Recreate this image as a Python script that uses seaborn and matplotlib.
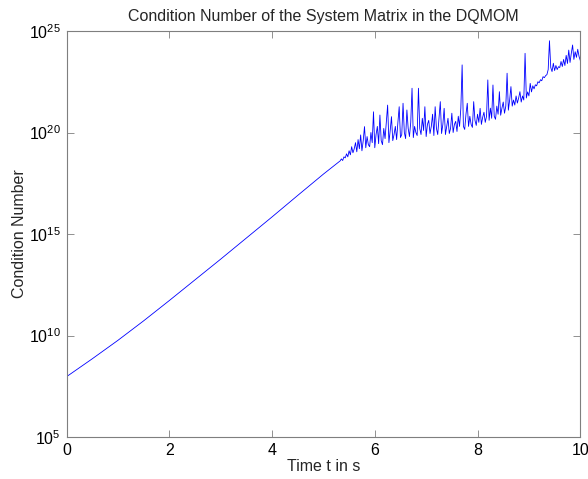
import numpy as np
import pandas as pd
import matplotlib
matplotlib.use("Agg")
import matplotlib.pyplot as plt
import seaborn as sns
from matplotlib.ticker import FixedLocator, FuncFormatter, NullLocator

# ---- data (log10 of condition number) ----
t_smooth = [0.0, 0.5, 1.0, 1.5, 2.0, 2.5, 3.0, 3.5, 4.0, 4.5, 5.0, 5.3]
log_smooth = [7.97, 8.85, 9.76, 10.72, 11.72, 12.74, 13.76, 14.8, 15.84, 16.9, 17.95, 18.55]

# noisy part, sampled every 0.025 s from 5.325 s to 10.0 s
t_noisy_start = 5.325
t_noisy_step = 0.025
log_a = [18.6, 18.7, 18.62, 18.8, 18.75, 18.95, 18.8, 19.1, 18.9, 19.3,
         19.0, 19.2, 19.5, 19.05, 19.65, 19.2, 19.88, 19.1, 19.6, 20.29]
log_b = [19.25, 19.8, 19.4, 19.3, 20.0, 19.5, 21.02, 19.25, 19.9, 20.3,
         19.45, 20.86, 19.6, 19.4, 20.2, 19.7, 20.5, 21.35, 19.5, 20.1]
log_c = [20.78, 19.6, 19.9, 20.3, 19.65, 20.5, 21.27, 19.75, 19.9, 21.44,
         20.0, 19.7, 21.11, 20.2, 19.8, 20.5, 22.18, 19.75, 20.3, 20.0]
log_d = [19.85, 22.18, 20.2, 19.9, 20.7, 20.1, 21.27, 19.8, 20.4, 20.6,
         19.95, 20.3, 20.9, 19.85, 21.27, 20.2, 19.9, 20.7, 21.52, 19.95]
log_e = [20.4, 21.19, 19.9, 20.3, 20.7, 19.95, 20.2, 20.95, 20.0, 20.4,
         20.55, 20.05, 20.8, 20.3, 21.2, 23.33, 20.3, 20.15, 20.9, 21.44]
log_f = [20.3, 20.8, 20.4, 20.25, 21.52, 20.6, 20.35, 20.9, 20.5, 21.19,
         20.4, 20.75, 21.0, 20.5, 20.8, 22.59, 20.6, 21.2, 20.7, 22.34]
log_g = [20.8, 20.65, 21.3, 20.9, 22.01, 20.85, 21.2, 21.5, 20.95, 21.3,
         22.92, 21.1, 21.6, 22.26, 21.3, 21.6, 21.35, 21.8, 21.45, 21.7]
log_h = [22.01, 21.5, 21.8, 21.6, 23.9, 21.7, 22.0, 21.8, 22.42, 22.0,
         22.3, 22.15, 22.35, 22.3, 22.5, 22.45, 22.6, 22.55, 22.75, 22.7]
log_i = [22.8, 22.85, 23.1, 24.52, 23.2, 23.0, 23.41, 23.05, 23.3, 23.1,
         23.24, 23.2, 23.5, 23.25, 23.6, 23.3, 23.8, 23.4, 24.06, 23.45]
log_j = [23.9, 24.31, 23.6, 23.98, 23.7, 24.1, 23.75, 23.55]

x_ticks = [0, 2, 4, 6, 8, 10]
y_tick_exps = [5, 10, 15, 20, 25]

title = "Condition Number of the System Matrix in the DQMOM"
xlabel = "Time t in s"
ylabel = "Condition Number"

# ---- assemble ----
log_noisy = log_a + log_b + log_c + log_d + log_e + log_f + log_g + log_h + log_i + log_j
t_noisy = [round(t_noisy_start + t_noisy_step * i, 4) for i in range(len(log_noisy))]
t_all = list(t_smooth) + t_noisy
cond = [10.0 ** v for v in (list(log_smooth) + log_noisy)]
df = pd.DataFrame({"t": t_all, "cond": cond})

sns.set_theme(style="white")
plt.rcParams["font.family"] = ["Liberation Sans", "DejaVu Sans"]
plt.rcParams["mathtext.fontset"] = "custom"
plt.rcParams["mathtext.rm"] = "Liberation Sans"

fig = plt.figure(figsize=(5.88, 4.79), dpi=100)
ax = fig.add_axes([66.5 / 588, 42 / 479, (580.3 - 66.5) / 588, (437 - 31) / 479])

sns.lineplot(data=df, x="t", y="cond", ax=ax, estimator=None, sort=False,
             color="#0000ff", linewidth=0.6)
ax.set_yscale("log")
ax.set_xlim(0, 10)
ax.set_ylim(1e5, 1e25)

ax.xaxis.set_major_locator(FixedLocator(x_ticks))
ax.yaxis.set_major_locator(FixedLocator([10.0 ** e for e in y_tick_exps]))
ax.yaxis.set_minor_locator(NullLocator())
ax.xaxis.set_minor_locator(NullLocator())
ax.yaxis.set_major_formatter(FuncFormatter(
    lambda v, p: r"$\mathregular{10^{%d}}$" % round(np.log10(v))))
ax.xaxis.set_major_formatter(FuncFormatter(lambda v, p: "%d" % v))

ax.tick_params(direction="in", length=5, width=0.6, color="#7f7f7f",
               labelsize=11.5, labelcolor="black", top=True, right=True,
               bottom=True, left=True, pad=4)
for s in ax.spines.values():
    s.set_color("#7f7f7f")
    s.set_linewidth(0.8)
    s.set_visible(True)

ax.set_title(title, fontsize=11.5, pad=7)
ax.set_xlabel(xlabel, fontsize=11.5, labelpad=1)
ax.set_ylabel(ylabel, fontsize=11.5)
ax.yaxis.set_label_coords(-0.077, 0.5)

fig.savefig("out.png", dpi=100, facecolor="white")
